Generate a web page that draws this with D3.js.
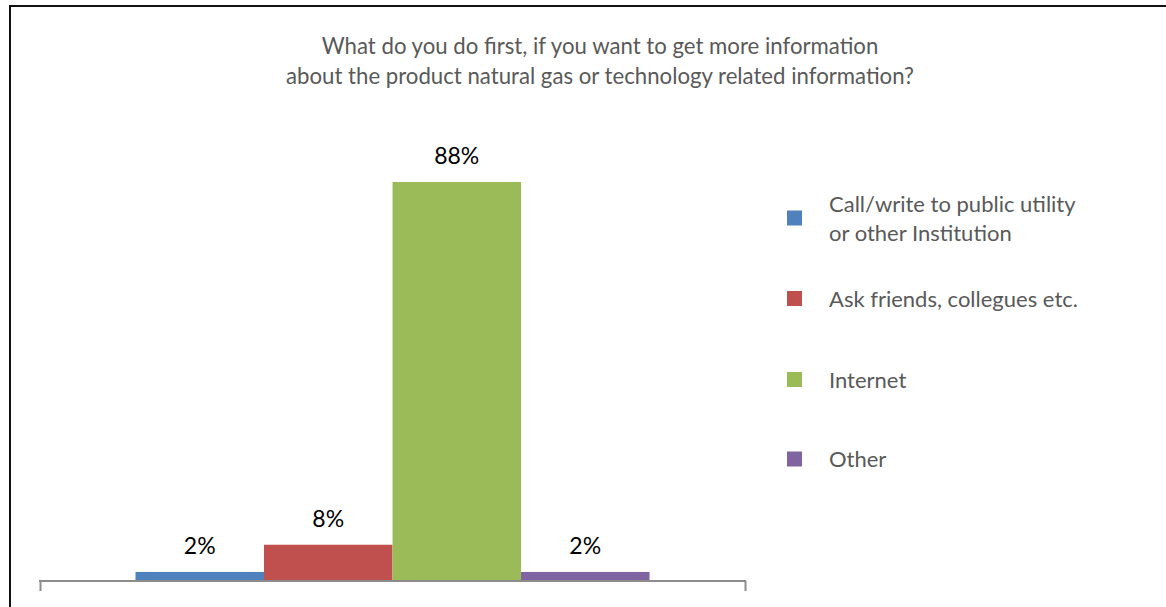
<!DOCTYPE html>
<html>
<head>
<meta charset="utf-8">
<script src="https://cdn.jsdelivr.net/npm/d3@7/dist/d3.min.js"></script>
<style>
  html, body { margin: 0; padding: 0; background: #fff; }
  svg { display: block; }
  text { font-family: Lato, "Open Sans", sans-serif; }
</style>
</head>
<body>
<svg id="chart" width="1166" height="607"></svg>
<script>
// Survey answers: share of respondents for each first step
const titleLines = [
  "What do you do first, if you want to get more information",
  "about the product natural gas or technology related information?"
];
const answers = ["Call/write to public utility or other Institution", "Ask friends, collegues etc.", "Internet", "Other"];
const legendLines = [["Call/write to public utility", "or other Institution"], ["Ask friends, collegues etc."], ["Internet"], ["Other"]];
const shares = [0.02, 0.08, 0.88, 0.02];
const colors = ["#4f81bd", "#c0504d", "#9bbb59", "#8064a2"];

const svg = d3.select("#chart");

// outer frame (right and bottom edges fall outside the view)
svg.append("rect")
  .attr("x", 10).attr("y", 6)
  .attr("width", 1200).attr("height", 700)
  .attr("fill", "none").attr("stroke", "#111").attr("stroke-width", 2);

// title
const title = svg.append("text")
  .attr("text-anchor", "middle")
  .attr("fill", "#595959")
  .style("font-size", "22.2px");
title.selectAll("tspan").data(titleLines).join("tspan")
  .attr("x", 600)
  .attr("y", (d, i) => 54 + i * 30)
  .text(d => d);

// scales
const plotLeft = 40, plotRight = 745, baseY = 581, topY = 182;
const x = d3.scaleBand().domain(answers).range([plotLeft, plotRight]).paddingInner(0).paddingOuter(0.743);
const y = d3.scaleLinear().domain([0, d3.max(shares)]).range([baseY, topY]);
const fmt = d3.format(".0%");

// bars
svg.append("g").selectAll("rect").data(answers).join("rect")
  .attr("x", d => x(d))
  .attr("width", x.bandwidth())
  .attr("y", (d, i) => y(shares[i]))
  .attr("height", (d, i) => baseY - y(shares[i]))
  .attr("fill", (d, i) => colors[i]);

// value labels
svg.append("g").selectAll("text").data(answers).join("text")
  .attr("x", d => x(d) + x.bandwidth() / 2)
  .attr("y", (d, i) => y(shares[i]) - 18)
  .attr("text-anchor", "middle")
  .attr("fill", "#000")
  .style("font-size", "23px")
  .text((d, i) => fmt(shares[i]));

// category axis: baseline with end ticks
const axis = d3.axisBottom(d3.scaleLinear().domain([0, 1]).range([plotLeft, plotRight]))
  .tickValues([0, 1]).tickSize(10).tickFormat("");
const ax = svg.append("g").attr("transform", `translate(0,${baseY})`).call(axis);
ax.select(".domain").remove();
ax.selectAll(".tick line").attr("stroke", "#8c8c8c").attr("stroke-width", 2);
ax.append("line")
  .attr("x1", plotLeft - 1).attr("x2", plotRight + 1)
  .attr("y1", 0).attr("y2", 0)
  .attr("stroke", "#8c8c8c").attr("stroke-width", 2);

// legend
const legendRowY = [218, 298.5, 379.5, 459];
const legend = svg.append("g").selectAll("g").data(answers).join("g")
  .attr("transform", (d, i) => `translate(787,${legendRowY[i]})`);
legend.append("rect")
  .attr("x", 0).attr("y", -7.5).attr("width", 15).attr("height", 15)
  .attr("fill", (d, i) => colors[i]);
legend.append("text")
  .attr("fill", "#595959")
  .style("font-size", "22px")
  .selectAll("tspan").data((d, i) => legendLines[i].map((t, k) => ({ t, k, n: legendLines[i].length })))
  .join("tspan")
  .attr("x", 42)
  .attr("y", p => p.n === 2 ? (p.k === 0 ? -6 : 23) : 8)
  .text(p => p.t);
</script>
</body>
</html>
